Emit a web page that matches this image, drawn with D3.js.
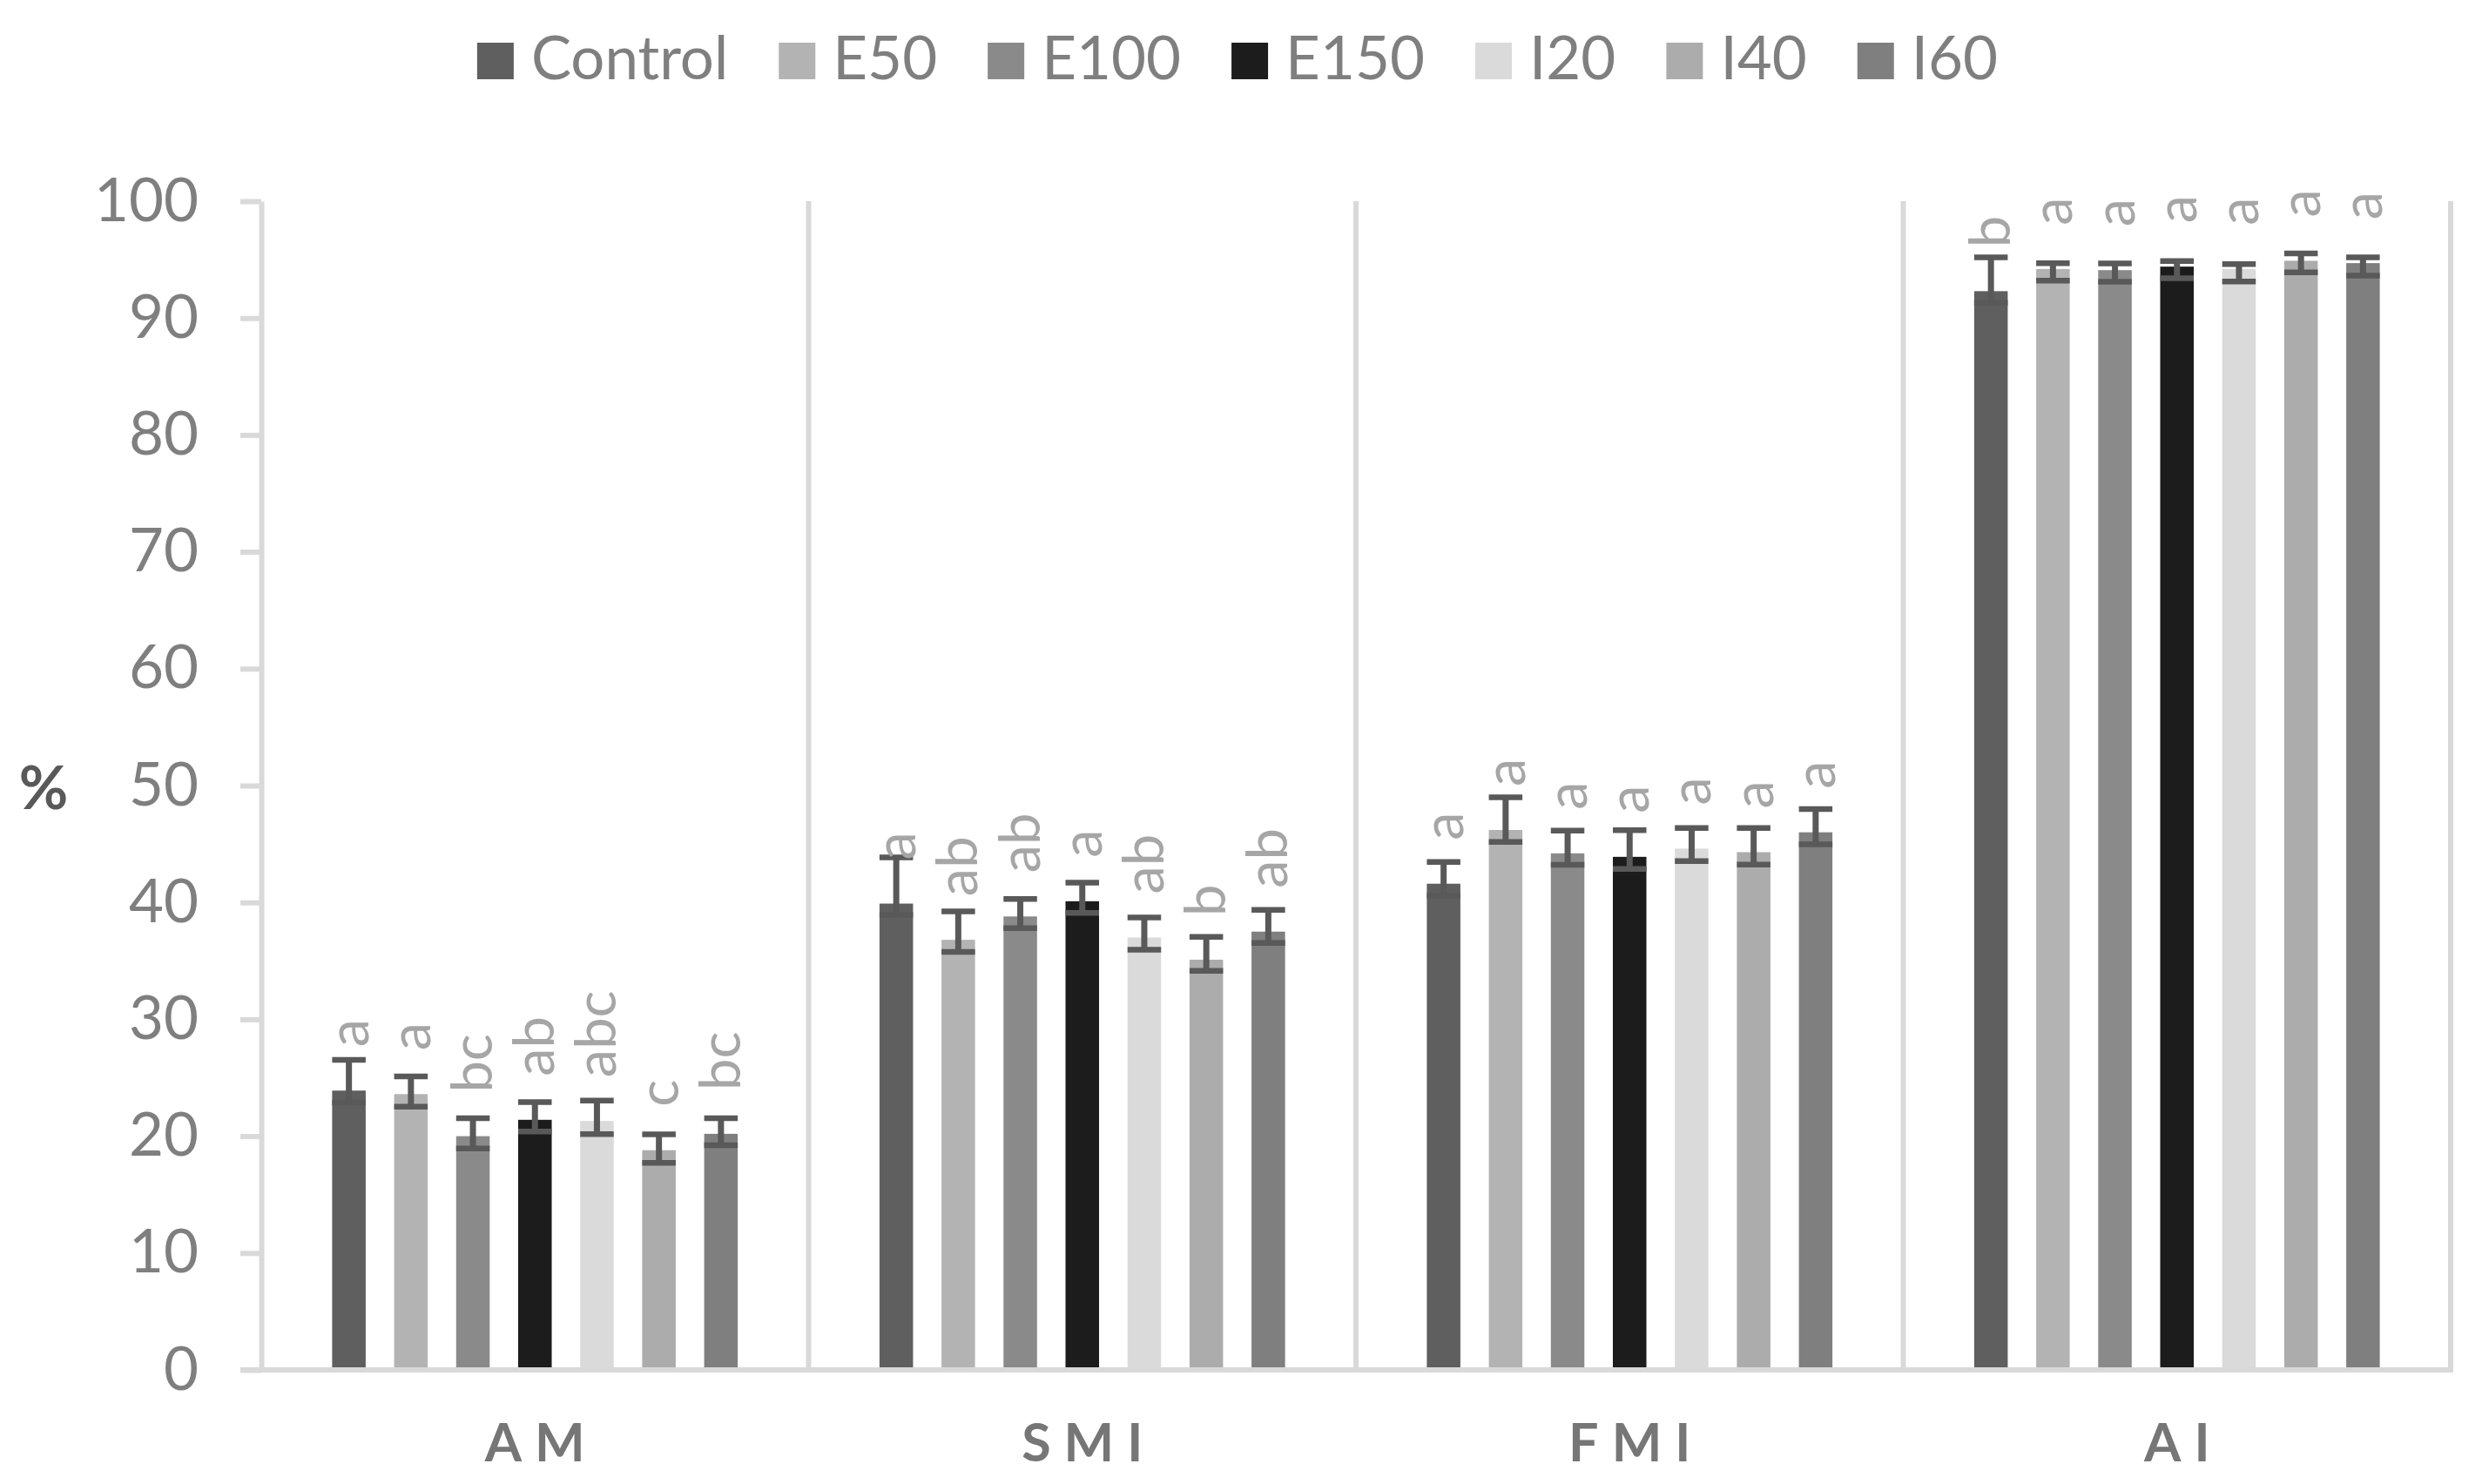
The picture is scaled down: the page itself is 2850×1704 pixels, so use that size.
<!DOCTYPE html>
<html>
<head>
<meta charset="utf-8">
<script src="https://cdn.jsdelivr.net/npm/d3@7/dist/d3.min.js"></script>
<style>
  html, body { margin: 0; padding: 0; background: #ffffff; }
  svg { display: block; }
  text { font-family: Lato, "Noto Sans", sans-serif; }
</style>
</head>
<body>
<svg id="chart" width="2850" height="1704"></svg>
<script>
// ---------- data ----------
const categories = ["AM", "SMI", "FMI", "AI"];
const seriesNames = ["Control", "E50", "E100", "E150", "I20", "I40", "I60"];
const seriesColors = ["#5f5f5f", "#b3b3b3", "#8a8a8a", "#1c1c1c", "#dadada", "#acacac", "#7f7f7f"];

const meansAM  = [23.9, 23.6, 20.0, 21.4, 21.3, 18.8, 20.2];
const meansSMI = [39.9, 36.8, 38.8, 40.1, 37.0, 35.1, 37.5];
const meansFMI = [41.6, 46.2, 44.2, 43.9, 44.6, 44.3, 46.0];
const meansAI  = [92.3, 94.2, 94.1, 94.4, 94.2, 94.9, 94.7];

const errUpAM  = [2.63, 1.52, 1.54, 1.51, 1.74, 1.36, 1.34];
const errUpSMI = [3.96, 2.43, 1.50, 1.60, 1.71, 1.96, 1.86];
const errUpFMI = [1.87, 2.79, 1.95, 2.29, 1.76, 2.06, 1.99];
const errUpAI  = [2.89, 0.50, 0.57, 0.47, 0.42, 0.62, 0.50];

const errDownAM  = [1.02, 1.07, 1.06, 1.00, 1.12, 1.09, 0.97];
const errDownSMI = [0.96, 1.04, 1.00, 1.00, 1.04, 0.96, 0.96];
const errDownFMI = [1.03, 1.03, 0.99, 1.03, 1.07, 1.07, 1.03];
const errDownAI  = [1.00, 1.00, 1.00, 1.00, 1.07, 1.00, 1.07];

const lettersAM  = ["a", "a", "bc", "ab", "abc", "c", "bc"];
const lettersSMI = ["a", "ab", "ab", "a", "ab", "b", "ab"];
const lettersFMI = ["a", "a", "a", "a", "a", "a", "a"];
const lettersAI  = ["b", "a", "a", "a", "a", "a", "a"];

const yTicks = [0, 10, 20, 30, 40, 50, 60, 70, 80, 90, 100];
const yLabel = "%";

const meanRows = [meansAM, meansSMI, meansFMI, meansAI];
const upRows = [errUpAM, errUpSMI, errUpFMI, errUpAI];
const downRows = [errDownAM, errDownSMI, errDownFMI, errDownAI];
const letterRows = [lettersAM, lettersSMI, lettersFMI, lettersAI];

const records = [];
categories.forEach((cat, ci) => {
  seriesNames.forEach((s, si) => {
    records.push({
      cat, series: s, si,
      value: meanRows[ci][si],
      up: upRows[ci][si],
      down: downRows[ci][si],
      letter: letterRows[ci][si]
    });
  });
});

// ---------- layout ----------
const svg = d3.select("#chart");
const plotLeft = 300, plotRight = 2814, plotTop = 231, plotBottom = 1573;
const gridColor = "#d9d9d9";
const axisTextColor = "#7f7f7f";

const x0 = d3.scaleBand().domain(categories).range([plotLeft, plotRight]).padding(0);
const x1 = d3.scaleBand().domain(seriesNames).range([0, x0.bandwidth()])
  .paddingInner(0.459).paddingOuter(1.143);
const y = d3.scaleLinear().domain([0, 100]).range([plotBottom, plotTop]);
const color = d3.scaleOrdinal().domain(seriesNames).range(seriesColors);

// category separators
svg.append("g").selectAll("line")
  .data(categories)
  .join("line")
  .attr("x1", d => x0(d) + x0.bandwidth())
  .attr("x2", d => x0(d) + x0.bandwidth())
  .attr("y1", y(100))
  .attr("y2", y(0))
  .attr("stroke", gridColor)
  .attr("stroke-width", 6);

// y axis
const yAxis = d3.axisLeft(y).tickValues(yTicks).tickSize(24).tickSizeOuter(0).tickPadding(48);
const gy = svg.append("g").attr("transform", `translate(${plotLeft},0)`).call(yAxis);
gy.select(".domain").attr("stroke", gridColor).attr("stroke-width", 6);
gy.selectAll(".tick line").attr("stroke", gridColor).attr("stroke-width", 6);
gy.selectAll(".tick text")
  .attr("fill", axisTextColor)
  .style("font-family", "Lato, 'Noto Sans', sans-serif")
  .style("font-size", "69px");

// bars
const bars = svg.append("g");
bars.selectAll("rect")
  .data(records)
  .join("rect")
  .attr("x", d => x0(d.cat) + x1(d.series))
  .attr("width", x1.bandwidth())
  .attr("y", d => y(d.value))
  .attr("height", d => y(0) - y(d.value))
  .attr("fill", d => color(d.series));

// baseline (x axis)
svg.append("line")
  .attr("x1", plotLeft - 24).attr("x2", plotRight + 3)
  .attr("y1", y(0)).attr("y2", y(0))
  .attr("stroke", gridColor).attr("stroke-width", 6);

// error bars
const errColor = "#595959";
const eg = svg.append("g").attr("stroke", errColor);
const cx = d => x0(d.cat) + x1(d.series) + x1.bandwidth() / 2;
eg.selectAll("line.stem")
  .data(records).join("line").attr("class", "stem")
  .attr("x1", cx).attr("x2", cx)
  .attr("y1", d => y(d.value + d.up)).attr("y2", d => y(d.value - d.down))
  .attr("stroke-width", 7);
eg.selectAll("line.capTop")
  .data(records).join("line").attr("class", "capTop")
  .attr("x1", d => cx(d) - x1.bandwidth() / 2).attr("x2", d => cx(d) + x1.bandwidth() / 2)
  .attr("y1", d => y(d.value + d.up)).attr("y2", d => y(d.value + d.up))
  .attr("stroke-width", 6.5);
eg.selectAll("line.capBot")
  .data(records).join("line").attr("class", "capBot")
  .attr("x1", d => cx(d) - x1.bandwidth() / 2).attr("x2", d => cx(d) + x1.bandwidth() / 2)
  .attr("y1", d => y(d.value - d.down)).attr("y2", d => y(d.value - d.down))
  .attr("stroke-width", 6.5);

// significance letters (rotated)
svg.append("g").selectAll("text")
  .data(records)
  .join("text")
  .attr("transform", d => `translate(${cx(d) + 22},${y(d.value) - 50}) rotate(-90)`)
  .attr("text-anchor", "start")
  .attr("fill", "#a6a6a6")
  .style("font-size", "65px")
  .text(d => d.letter);

// category labels
const catLS = 15;
svg.append("g").selectAll("text")
  .data(categories)
  .join("text")
  .attr("x", d => x0(d) + x0.bandwidth() / 2 + catLS / 2)
  .attr("y", 1678)
  .attr("text-anchor", "middle")
  .attr("fill", "#767676")
  .style("font-weight", "bold")
  .style("font-size", "61px")
  .style("letter-spacing", catLS + "px")
  .text(d => d);

// y label
svg.append("text")
  .attr("x", 50).attr("y", 929)
  .attr("text-anchor", "middle")
  .attr("fill", "#595959")
  .style("font-weight", "bold")
  .style("font-size", "69px")
  .text(yLabel);

// legend
const legend = svg.append("g");
const sw = 42, swGap = 20, itemGap = 58;
let cursor = 0;
const items = legend.selectAll("g")
  .data(seriesNames)
  .join("g");
items.append("rect")
  .attr("width", sw).attr("height", sw)
  .attr("y", 49)
  .attr("fill", d => color(d));
items.append("text")
  .attr("x", sw + swGap)
  .attr("y", 91)
  .attr("fill", axisTextColor)
  .style("font-size", "69px")
  .text(d => d);
items.each(function() {
  const g = d3.select(this);
  const w = g.select("text").node().getComputedTextLength();
  g.attr("transform", `translate(${cursor},0)`);
  cursor += sw + swGap + w + itemGap;
});
const legendWidth = cursor - itemGap;
legend.attr("transform", `translate(${(2850 - legendWidth) / 2 - 4},0)`);
</script>
</body>
</html>
